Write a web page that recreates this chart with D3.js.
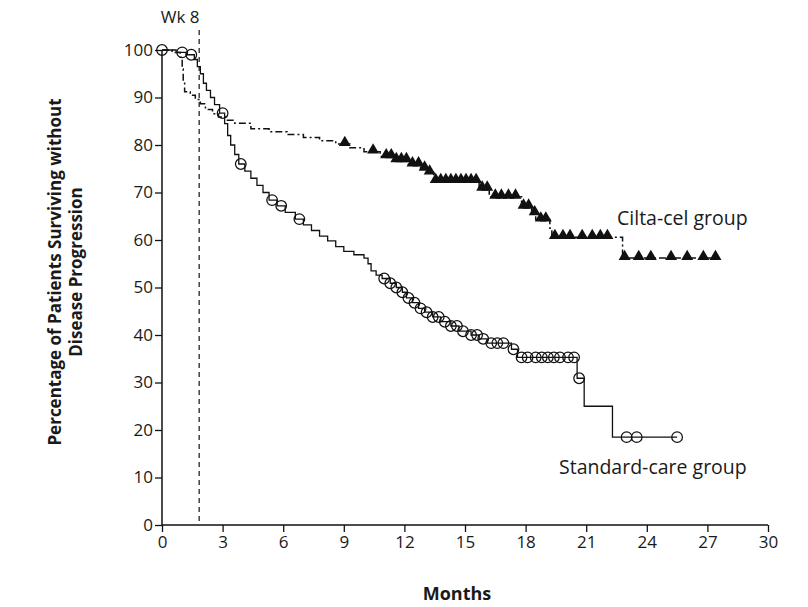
<!DOCTYPE html>
<html>
<head>
<meta charset="utf-8">
<script src="https://cdn.jsdelivr.net/npm/d3@7"></script>
<style>
  html, body { margin: 0; padding: 0; background: #ffffff; }
  svg text { font-family: "Open Sans", "Noto Sans", sans-serif; fill: #1a1a1a; }
</style>
</head>
<body>
<svg id="chart" width="808" height="607"></svg>
<script>
// Kaplan-Meier step curves: month at which each step begins, and survival (%) from then on
const standardTimes = [0, 0.7, 1.2, 1.6, 1.75, 1.9, 2.05, 2.2, 2.4, 2.6, 2.85, 3.1, 3.25, 3.4, 3.6, 3.8,
  4.1, 4.4, 4.7, 5.0, 5.3, 5.7, 6.1, 6.6, 7.0, 7.4, 7.8, 8.2, 8.6, 9.0, 9.5, 10.0, 10.2, 10.35, 10.6,
  10.9, 11.3, 11.6, 11.9, 12.1, 12.4, 12.7, 13.0, 13.4, 13.8, 14.3, 14.7, 15.3, 15.7, 16.1, 17.3, 17.6,
  20.55, 20.9, 22.3, 25.5];
const standardSurv = [100, 99.5, 99, 98, 96.5, 95, 93, 91.5, 90, 88.5, 86.7, 84.5, 82, 80, 78, 76,
  74.5, 73, 71.5, 70, 68.4, 67.2, 65.8, 64.4, 63.2, 62, 60.8, 59.8, 58.6, 57.6, 56.9, 56.2, 55, 53.5, 52.6,
  51.9, 50.9, 50.0, 49.0, 47.8, 46.8, 45.6, 44.8, 43.8, 42.8, 41.9, 40.8, 40.0, 39.2, 38.3, 37.0, 35.3,
  30.9, 25, 18.5, 18.5];
const standardCensored = [0, 1.0, 1.45, 3.0, 3.9, 5.45, 5.9, 6.8, 11.0, 11.3, 11.6, 11.9, 12.2, 12.5,
  12.8, 13.1, 13.4, 13.7, 14.0, 14.3, 14.6, 14.9, 15.3, 15.6, 15.9, 16.3, 16.6, 16.9, 17.4, 17.8, 18.1,
  18.5, 18.8, 19.1, 19.4, 19.7, 20.1, 20.4, 20.65, 23.0, 23.5, 25.5];

const ciltaTimes = [0, 0.5, 0.9, 1.0, 1.05, 1.12, 1.4, 1.65, 1.9, 2.15, 2.5, 2.8, 3.2, 3.6, 4.4, 5.3,
  6.2, 7.0, 7.8, 8.6, 9.3, 10.0, 10.8, 11.5, 12.2, 12.8, 13.2, 13.45, 15.7, 16.2, 17.8, 18.3, 18.5,
  19.2, 19.3, 22.8, 27.4];
const ciltaSurv = [100, 99.5, 98.5, 96, 93.5, 91.2, 90.5, 89.6, 88.7, 87.5, 86.6, 85.9, 85.2, 84.6, 83.4, 82.8,
  82.2, 81.6, 80.9, 80.2, 79.4, 78.6, 77.6, 76.8, 75.9, 75.0, 74.2, 72.4, 70.8, 69.1, 67.0, 65.6, 64.3,
  62.5, 60.6, 56.2, 56.2];
const ciltaCensored = [9.05, 10.45, 11.1, 11.35, 11.6, 11.85, 12.1, 12.4, 12.7, 13.0, 13.25, 13.55, 13.8,
  14.05, 14.3, 14.55, 14.8, 15.05, 15.3, 15.55, 15.85, 16.1, 16.5, 16.8, 17.15, 17.5, 17.9, 18.15,
  18.45, 18.75, 19.0, 19.45, 19.85, 20.2, 20.8, 21.3, 21.7, 22.05, 22.9, 23.6, 24.2, 25.2, 26.0, 26.8, 27.4];

const xTicks = [0, 3, 6, 9, 12, 15, 18, 21, 24, 27, 30];
const yTicks = [0, 10, 20, 30, 40, 50, 60, 70, 80, 90, 100];
const week8Month = 8 * 7 / 30.4375;

const svg = d3.select("#chart");
const margin = { left: 162, right: 40, top: 50, bottom: 82 };
const width = 808, height = 607;

const x = d3.scaleLinear().domain([0, 30]).range([margin.left, width - margin.right]);
const y = d3.scaleLinear().domain([0, 100]).range([height - margin.bottom, margin.top]);

// y axis
const yAxis = svg.append("g")
  .attr("transform", `translate(${x(0)},0)`)
  .call(d3.axisLeft(y).tickValues(yTicks).tickSize(7).tickPadding(2));
// x axis
const xAxis = svg.append("g")
  .attr("transform", `translate(0,${y(0)})`)
  .call(d3.axisBottom(x).tickValues(xTicks).tickSize(7).tickPadding(4));

[yAxis, xAxis].forEach(g => {
  g.select(".domain").attr("stroke", "#111").attr("stroke-width", 1.5);
  g.selectAll(".tick line").attr("stroke", "#111").attr("stroke-width", 1.3);
  g.selectAll(".tick text").attr("font-size", 17).attr("fill", "#1a1a1a")
    .attr("font-family", "\"Open Sans\", \"Noto Sans\", sans-serif");
});
// tight domain ends (no outer tick stubs)
yAxis.select(".domain").attr("d", `M0,${y(100)}V${y(0)}`);
xAxis.select(".domain").attr("d", `M${x(0)},0H${x(30)}`);

// week-8 reference line
svg.append("line")
  .attr("x1", x(week8Month)).attr("x2", x(week8Month))
  .attr("y1", 30).attr("y2", y(0))
  .attr("stroke", "#111").attr("stroke-width", 1.2)
  .attr("stroke-dasharray", "5,4");
svg.append("text")
  .attr("x", x(week8Month) - 19).attr("y", 23)
  .attr("text-anchor", "middle").attr("font-size", 17)
  .text("Wk 8");

// step functions
function stepValue(times, surv, t) {
  const i = d3.bisectRight(times, t) - 1;
  return surv[Math.max(0, i)];
}
const stepLine = d3.line()
  .x(d => x(d[0])).y(d => y(d[1]))
  .curve(d3.curveStepAfter);

const standardData = standardTimes.map((t, i) => [t, standardSurv[i]]);
const ciltaData = ciltaTimes.map((t, i) => [t, ciltaSurv[i]]);

svg.append("path")
  .datum(ciltaData)
  .attr("d", stepLine)
  .attr("fill", "none").attr("stroke", "#111").attr("stroke-width", 1.5)
  .attr("stroke-dasharray", "7,3,2,3");

svg.append("path")
  .datum(standardData)
  .attr("d", stepLine)
  .attr("fill", "none").attr("stroke", "#111").attr("stroke-width", 1.3);

// censoring marks
svg.append("g").selectAll("circle")
  .data(standardCensored)
  .join("circle")
  .attr("cx", d => x(d))
  .attr("cy", d => y(stepValue(standardTimes, standardSurv, d)))
  .attr("r", 5.3)
  .attr("fill", "none").attr("stroke", "#111").attr("stroke-width", 1.25);

const tri = d3.symbol().type(d3.symbolTriangle).size(62);
svg.append("g").selectAll("path")
  .data(ciltaCensored)
  .join("path")
  .attr("transform", d => `translate(${x(d)},${y(stepValue(ciltaTimes, ciltaSurv, d)) - 1.5})`)
  .attr("d", tri)
  .attr("fill", "#111");

// group labels
svg.append("text").attr("x", 617).attr("y", 225).attr("font-size", 19.5).text("Cilta-cel group");
svg.append("text").attr("x", 559).attr("y", 474).attr("font-size", 19.5).text("Standard-care group");

// axis titles
svg.append("text")
  .attr("x", x(15) - 8).attr("y", 600)
  .attr("text-anchor", "middle").attr("font-size", 18).attr("font-weight", "bold")
  .text("Months");

const yTitle = svg.append("text")
  .attr("transform", `translate(0,272) rotate(-90)`)
  .attr("text-anchor", "middle").attr("font-size", 17).attr("font-weight", "bold");
yTitle.append("tspan").attr("x", 0).attr("y", 61).text("Percentage of Patients Surviving without");
yTitle.append("tspan").attr("x", 0).attr("y", 82).text("Disease Progression");
</script>
</body>
</html>
